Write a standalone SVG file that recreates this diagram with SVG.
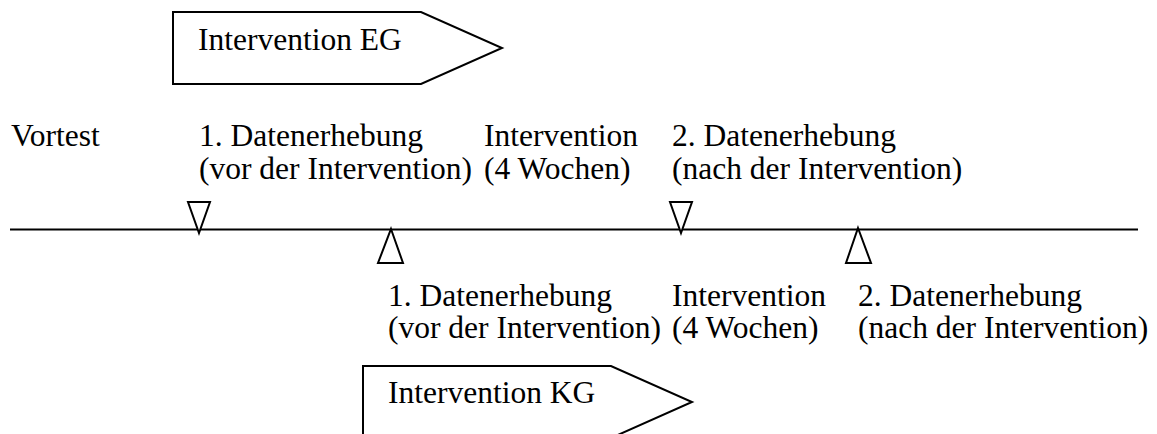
<svg xmlns="http://www.w3.org/2000/svg" width="1157" height="434" viewBox="0 0 1157 434">
<style>
text{font-family:"Liberation Serif","Times New Roman",serif;font-size:31.5px;fill:#000}
.s{fill:#fff;stroke:#000;stroke-width:2;stroke-linejoin:miter}
.l{stroke:#000;stroke-width:2;fill:none}
</style>
<rect width="1157" height="434" fill="#fff"/>
<g id="eg-arrow">
<path class="s" d="M173,12 H421 L502,48 L421,84 H173 Z"/>
<text x="198" y="50">Intervention EG</text>
</g>
<g id="kg-arrow">
<path class="s" d="M363,366 H611 L692,402 L611,438 H363 Z"/>
<text x="388" y="403">Intervention KG</text>
</g>
<g id="connectors">
<line class="l" x1="10" y1="229.5" x2="1138" y2="229.5"/>
</g>
<g id="eg-markers">
<path class="s" d="M188,202 H210 L199,233 Z"/>
<path class="s" d="M670,202 H692 L681,233 Z"/>
</g>
<g id="kg-markers">
<path class="s" d="M391,229 L403,263 H378 Z"/>
<path class="s" d="M858,228 L871,263 H846 Z"/>
</g>
<g id="labels-eg">
<text x="11" y="146">Vortest</text>
<text x="199" y="146">1. Datenerhebung</text>
<text x="199" y="179">(vor der Intervention)</text>
<text x="484" y="146">Intervention</text>
<text x="484" y="179">(4 Wochen)</text>
<text x="672" y="146">2. Datenerhebung</text>
<text x="672" y="179">(nach der Intervention)</text>
</g>
<g id="labels-kg">
<text x="388" y="306">1. Datenerhebung</text>
<text x="388" y="338">(vor der Intervention)</text>
<text x="672" y="306">Intervention</text>
<text x="672" y="338">(4 Wochen)</text>
<text x="858" y="306">2. Datenerhebung</text>
<text x="858" y="338">(nach der Intervention)</text>
</g>
</svg>
